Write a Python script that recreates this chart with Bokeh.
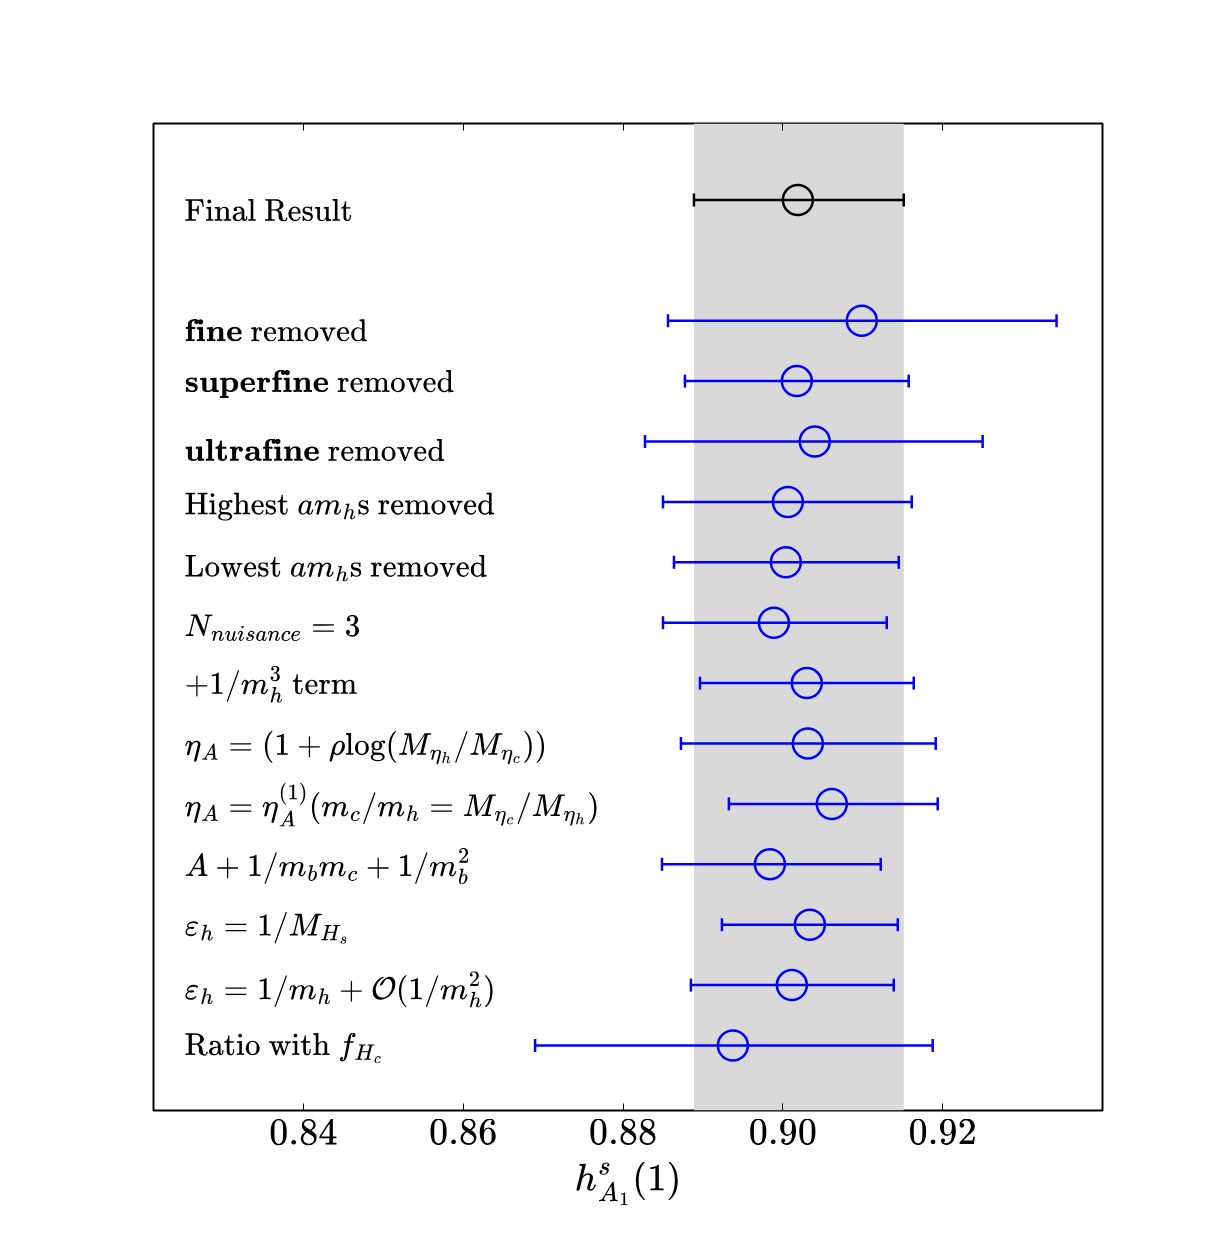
from bokeh.plotting import figure
from bokeh.models import (ColumnDataSource, Range1d, LinearAxis, FixedTicker,
                          Whisker, TeeHead, BoxAnnotation, Label, TeX)
from bokeh.embed import file_html
from bokeh.resources import INLINE

# Fit variations: central value and lower / upper end of the error bar
variation_labels = [
    r"\textbf{fine}\text{ removed}",
    r"\textbf{superfine}\text{ removed}",
    r"\textbf{ultrafine}\text{ removed}",
    r"\text{Highest }am_h\text{s removed}",
    r"\text{Lowest }am_h\text{s removed}",
    r"N_{nuisance}=3",
    r"+1/m_h^3\text{ term}",
    r"\eta_A=(1+\rho\mathrm{log}(M_{\eta_h}/M_{\eta_c}))",
    r"\eta_A=\eta_A^{(1)}(m_c/m_h=M_{\eta_c}/M_{\eta_h})",
    r"A+1/m_bm_c+1/m_b^2",
    r"\varepsilon_h=1/M_{H_s}",
    r"\varepsilon_h=1/m_h+\mathcal{O}(1/m_h^2)",
    r"\text{Ratio with }f_{H_c}",
]
variation_rows = [13, 12, 11, 10, 9, 8, 7, 6, 5, 4, 3, 2, 1]
variation_center = [0.90988, 0.90175, 0.90400, 0.90063, 0.90038, 0.89888, 0.90300,
                    0.90313, 0.90613, 0.89838, 0.90338, 0.90113, 0.89375]
variation_low = [0.88563, 0.88775, 0.88275, 0.88500, 0.88638, 0.88500, 0.88963,
                 0.88725, 0.89325, 0.88488, 0.89238, 0.88850, 0.86900]
variation_high = [0.93425, 0.91575, 0.92500, 0.91613, 0.91450, 0.91300, 0.91638,
                  0.91913, 0.91938, 0.91225, 0.91438, 0.91388, 0.91875]

# Final result
final_label = r"\text{Final Result}"
final_row = 15
final_center = 0.90188
final_low = 0.88888
final_high = 0.91513

# Baseline of each row label (in row units)
final_label_y = 14.77
variation_label_y = [12.78, 11.94, 10.80, 9.91, 8.88, 7.89, 6.98,
                     5.93, 4.99, 3.97, 2.95, 1.93, 0.96]

x_ticks = [0.84, 0.86, 0.88, 0.90, 0.92]
x_tick_labels = ["0.84", "0.86", "0.88", "0.90", "0.92"]

p = figure(width=1225, height=1234, output_backend="svg", toolbar_location=None,
           x_range=Range1d(0.82125, 0.94), y_range=Range1d(-0.076, 16.265),
           x_axis_location=None, y_axis_location=None,
           min_border_left=153, min_border_right=123,
           min_border_top=123, min_border_bottom=124)
p.grid.visible = False
p.background_fill_color = "white"
p.border_fill_color = "white"
p.outline_line_color = "black"
p.outline_line_width = 2
p.outline_line_alpha = 1

# Shaded band spanning the final result's uncertainty
p.add_layout(BoxAnnotation(left=final_low, right=final_high, fill_color="#d9d9d9",
                           fill_alpha=1, line_alpha=0, level="underlay"))

def error_bars(rows, center, low, high, color):
    src = ColumnDataSource(dict(y=rows, x=center, lo=low, hi=high))
    head = dict(size=13, line_color=color, line_width=2.5)
    p.add_layout(Whisker(source=src, base="y", lower="lo", upper="hi",
                         dimension="width", line_color=color, line_width=2.5,
                         lower_head=TeeHead(**head), upper_head=TeeHead(**head)))
    p.scatter("x", "y", source=src, marker="circle", size=30, fill_color=None,
              line_color=color, line_width=2.5)

error_bars([final_row], [final_center], [final_low], [final_high], "black")
error_bars(variation_rows, variation_center, variation_low, variation_high, "blue")

# Row labels
for txt, ly in zip([final_label] + variation_labels, [final_label_y] + variation_label_y):
    p.add_layout(Label(x=0.82513, y=ly, text=TeX(text=txt), text_font_size="26px",
                       text_baseline="alphabetic", text_align="left",
                       text_color="black"))

# Axes: inward ticks on top and bottom, labels only at the bottom
ticker = FixedTicker(ticks=x_ticks, minor_ticks=[])
bottom = LinearAxis(ticker=ticker, axis_label=TeX(text=r"h^s_{A_1}(1)"))
bottom.major_label_overrides = {t: TeX(text=s) for t, s in zip(x_ticks, x_tick_labels)}
top = LinearAxis(ticker=ticker, major_label_text_font_size="0px")
for ax in (bottom, top):
    ax.axis_line_color = None
    ax.major_tick_in = 7
    ax.major_tick_out = 0
    ax.major_tick_line_width = 1
    ax.major_tick_line_color = "black"
    ax.minor_tick_line_color = None
top.major_label_text_alpha = 0
bottom.major_label_text_font_size = "31px"
bottom.major_label_text_color = "black"
bottom.major_label_standoff = 8
bottom.axis_label_text_font_size = "32px"
bottom.axis_label_text_color = "black"
bottom.axis_label_standoff = 5
p.add_layout(bottom, "below")
p.add_layout(top, "above")

open("out.html", "w").write(file_html(p, INLINE))
